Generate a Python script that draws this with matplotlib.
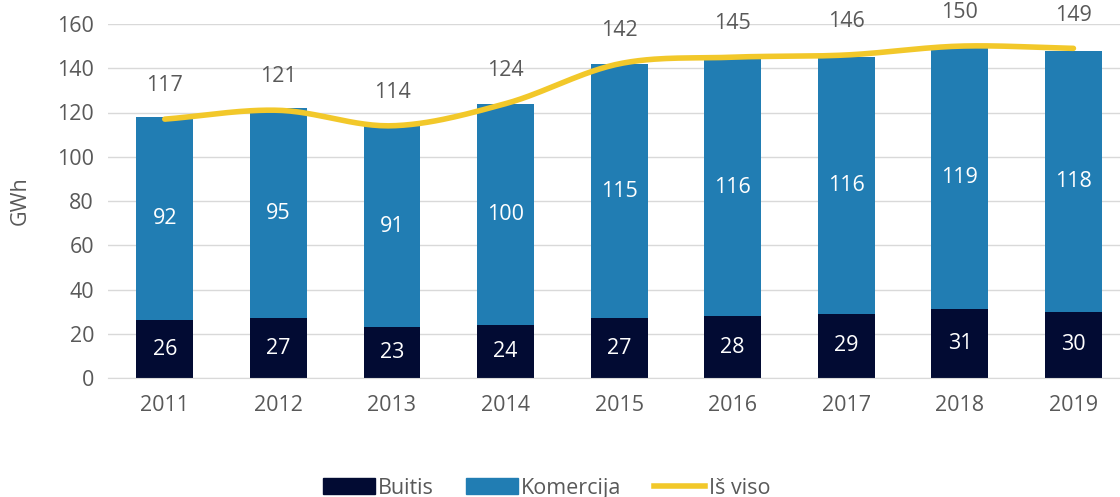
import numpy as np
import matplotlib.pyplot as plt
from matplotlib.lines import Line2D
from matplotlib.patches import Patch

years = ['2011', '2012', '2013', '2014', '2015', '2016', '2017', '2018', '2019']
buitis = [26, 27, 23, 24, 27, 28, 29, 31, 30]
komercija = [92, 95, 91, 100, 115, 116, 116, 119, 118]
is_viso = [117, 121, 114, 124, 142, 145, 146, 150, 149]

c_dark = '#020b33'
c_blue = '#217db3'
c_yellow = '#f2c82a'
c_text = '#595959'
fs = 15.5

plt.rcParams['font.family'] = ['Open Sans', 'DejaVu Sans']


def smooth(xs, ys, n=30):
    # Catmull-Rom style smoothing, similar to Excel's smoothed line
    xs = np.asarray(xs, float)
    ys = np.asarray(ys, float)
    px = np.concatenate([[2 * xs[0] - xs[1]], xs, [2 * xs[-1] - xs[-2]]])
    py = np.concatenate([[2 * ys[0] - ys[1]], ys, [2 * ys[-1] - ys[-2]]])
    ox, oy = [], []
    t = np.linspace(0, 1, n)
    for i in range(1, len(px) - 2):
        for p, o in ((px, ox), (py, oy)):
            p0, p1, p2, p3 = p[i - 1], p[i], p[i + 1], p[i + 2]
            c1 = p1 + (p2 - p0) / 6
            c2 = p2 - (p3 - p1) / 6
            o.extend((1 - t) ** 3 * p1 + 3 * (1 - t) ** 2 * t * c1
                     + 3 * (1 - t) * t ** 2 * c2 + t ** 3 * p2)
    return np.array(ox), np.array(oy)


fig = plt.figure(figsize=(11.2, 4.97), dpi=100)
ax = fig.add_axes([108 / 1120, 1 - 378 / 497, 1012 / 1120, 354 / 497])

x = np.arange(len(years))
ax.bar(x, buitis, width=0.5, color=c_dark, zorder=2)
ax.bar(x, komercija, width=0.5, bottom=buitis, color=c_blue, zorder=2)

for i in range(len(years)):
    ax.text(x[i], buitis[i] / 2, str(buitis[i]), ha='center', va='center',
            color='white', fontsize=fs, zorder=4)
    ax.text(x[i], buitis[i] + komercija[i] / 2, str(komercija[i]), ha='center',
            va='center', color='white', fontsize=fs, zorder=4)

sx, sy = smooth(x, is_viso)
ax.plot(sx, sy, color=c_yellow, lw=4, solid_capstyle='round', zorder=3)
for i in range(len(years)):
    ax.annotate(str(is_viso[i]), (x[i], is_viso[i]), xytext=(0, 24),
                textcoords='offset points', ha='center', va='center',
                color=c_text, fontsize=fs)

ax.set_xlim(-0.5, 8.41)
ax.set_ylim(0, 160)
ax.set_yticks(range(0, 161, 20))
ax.set_xticks(x)
ax.set_xticklabels(years)
ax.tick_params(axis='both', length=0, labelsize=fs, labelcolor=c_text)
ax.tick_params(axis='x', pad=12)
ax.tick_params(axis='y', pad=10)
ax.grid(axis='y', color='#d9d9d9', lw=1, zorder=0)
ax.set_axisbelow(True)
for s in ['top', 'right', 'left']:
    ax.spines[s].set_visible(False)
ax.spines['bottom'].set_color('#d9d9d9')
ax.set_ylabel('GWh', color=c_text, fontsize=fs)
ax.yaxis.set_label_coords(-0.076, 0.5)

handles = [Patch(color=c_dark), Patch(color=c_blue),
           Line2D([0], [0], color=c_yellow, lw=4)]
fig.legend(handles, ['Buitis', 'Komercija', 'Iš viso'], loc='center',
           bbox_to_anchor=(0.488, 0.018), ncol=3, frameon=False, fontsize=fs,
           labelcolor=c_text, handlelength=2.4, handleheight=0.75,
           handletextpad=0.15, columnspacing=1.5)

fig.savefig('out.png', dpi=100)
